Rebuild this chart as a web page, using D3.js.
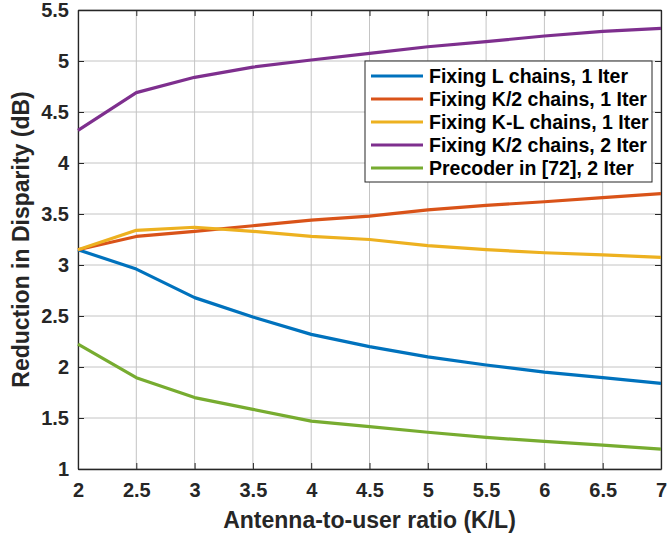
<!DOCTYPE html>
<html>
<head>
<meta charset="utf-8">
<script src="https://cdn.jsdelivr.net/npm/d3@7"></script>
<style>
  html, body { margin: 0; padding: 0; background: #fff; }
  svg { display: block; font-family: "Liberation Sans", Arial, sans-serif; }
</style>
</head>
<body>
<svg id="chart" width="668" height="535"></svg>
<script>
// Antenna-to-user ratio values on the horizontal axis
const ratios = [2, 2.5, 3, 3.5, 4, 4.5, 5, 5.5, 6, 6.5, 7];

// Reduction in disparity (dB) for each scheme
const fixingL1 = [3.15, 2.96, 2.68, 2.49, 2.32, 2.20, 2.10, 2.02, 1.95, 1.895, 1.84];
const fixingK2_1 = [3.15, 3.28, 3.33, 3.385, 3.44, 3.48, 3.54, 3.585, 3.62, 3.66, 3.70];
const fixingKL1 = [3.15, 3.34, 3.37, 3.33, 3.28, 3.25, 3.19, 3.15, 3.12, 3.10, 3.075];
const fixingK2_2 = [4.32, 4.69, 4.84, 4.94, 5.01, 5.075, 5.14, 5.19, 5.245, 5.29, 5.32];
const precoder72 = [2.225, 1.895, 1.70, 1.585, 1.47, 1.415, 1.36, 1.31, 1.27, 1.235, 1.195];

const seriesNames = [
  "Fixing L chains, 1 Iter",
  "Fixing K/2 chains, 1 Iter",
  "Fixing K-L chains, 1 Iter",
  "Fixing K/2 chains, 2 Iter",
  "Precoder in [72], 2 Iter"
];
const seriesColors = ["#0072BD", "#D95319", "#EDB120", "#7E2F8E", "#77AC30"];

const xTicks = [2, 2.5, 3, 3.5, 4, 4.5, 5, 5.5, 6, 6.5, 7];
const yTicks = [1, 1.5, 2, 2.5, 3, 3.5, 4, 4.5, 5, 5.5];

const xLabel = "Antenna-to-user ratio (K/L)";
const yLabel = "Reduction in Disparity (dB)";

const series = [fixingL1, fixingK2_1, fixingKL1, fixingK2_2, precoder72].map((vals, i) => ({
  name: seriesNames[i],
  color: seriesColors[i],
  points: vals.map((v, j) => [ratios[j], v])
}));

const svg = d3.select("#chart");
const plot = { left: 78, top: 10, right: 661, bottom: 469 };

const x = d3.scaleLinear().domain([2, 7]).range([plot.left, plot.right]);
const y = d3.scaleLinear().domain([1, 5.5]).range([plot.bottom, plot.top]);

const axisColor = "#262626";
const gridColor = "#c4c4c4";

// Grid lines
const grid = svg.append("g");
grid.selectAll("line.gx").data(xTicks).join("line")
  .attr("x1", d => x(d)).attr("x2", d => x(d))
  .attr("y1", plot.top).attr("y2", plot.bottom)
  .attr("stroke", gridColor).attr("stroke-width", 1);
grid.selectAll("line.gy").data(yTicks).join("line")
  .attr("y1", d => y(d)).attr("y2", d => y(d))
  .attr("x1", plot.left).attr("x2", plot.right)
  .attr("stroke", gridColor).attr("stroke-width", 1);

// Axes on all four sides (box), ticks pointing inward
const tickLen = 6;
function styleAxis(g) {
  g.attr("font-size", null).attr("font-family", null);
  g.selectAll("path.domain").attr("stroke", axisColor).attr("stroke-width", 1.3);
  g.selectAll(".tick line").attr("stroke", axisColor).attr("stroke-width", 1);
  g.selectAll(".tick text")
    .attr("fill", axisColor)
    .style("font-size", "20px")
    .style("font-weight", "bold")
    .style("font-family", "'Liberation Sans', Arial, sans-serif");
}

svg.append("g")
  .attr("transform", `translate(0,${plot.bottom})`)
  .call(d3.axisBottom(x).tickValues(xTicks).tickFormat(d3.format("")).tickSizeInner(-tickLen).tickSizeOuter(0).tickPadding(14))
  .call(styleAxis);
svg.append("g")
  .attr("transform", `translate(0,${plot.top})`)
  .call(d3.axisTop(x).tickValues(xTicks).tickFormat("").tickSizeInner(-tickLen).tickSizeOuter(0))
  .call(styleAxis);
svg.append("g")
  .attr("transform", `translate(${plot.left},0)`)
  .call(d3.axisLeft(y).tickValues(yTicks).tickFormat(d3.format("")).tickSizeInner(-tickLen).tickSizeOuter(0).tickPadding(9))
  .call(styleAxis);
svg.append("g")
  .attr("transform", `translate(${plot.right},0)`)
  .call(d3.axisRight(y).tickValues(yTicks).tickFormat("").tickSizeInner(-tickLen).tickSizeOuter(0))
  .call(styleAxis);

// Data lines
const line = d3.line().x(d => x(d[0])).y(d => y(d[1]));
svg.append("g").selectAll("path").data(series).join("path")
  .attr("d", d => line(d.points))
  .attr("fill", "none")
  .attr("stroke", d => d.color)
  .attr("stroke-width", 3.2)
  .attr("stroke-linejoin", "round");

// Axis titles
svg.append("text")
  .attr("x", (plot.left + plot.right) / 2)
  .attr("y", 528)
  .attr("text-anchor", "middle")
  .attr("fill", axisColor)
  .style("font-size", "23px").style("font-weight", "bold")
  .text(xLabel);

svg.append("text")
  .attr("transform", `translate(29,${(plot.top + plot.bottom) / 2}) rotate(-90)`)
  .attr("text-anchor", "middle")
  .attr("fill", axisColor)
  .style("font-size", "23px").style("font-weight", "bold")
  .text(yLabel);

// Legend
const legend = { left: 365, top: 61, width: 287, height: 121, rowH: 23 };
const lg = svg.append("g");
lg.append("rect")
  .attr("x", legend.left).attr("y", legend.top)
  .attr("width", legend.width).attr("height", legend.height)
  .attr("fill", "#fff").attr("stroke", axisColor).attr("stroke-width", 1);
const rows = lg.selectAll("g.row").data(series).join("g")
  .attr("transform", (d, i) => `translate(${legend.left},${legend.top + 15 + i * legend.rowH})`);
rows.append("line")
  .attr("x1", 6).attr("x2", 58).attr("y1", 0).attr("y2", 0)
  .attr("stroke", d => d.color).attr("stroke-width", 3.2);
rows.append("text")
  .attr("x", 64).attr("y", 0).attr("dy", "0.35em")
  .attr("fill", "#000")
  .style("font-size", "19.5px").style("font-weight", "bold")
  .text(d => d.name);
</script>
</body>
</html>
